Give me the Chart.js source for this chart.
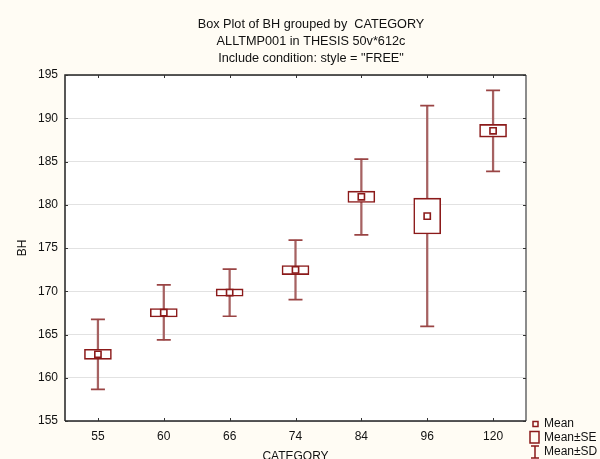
<!DOCTYPE html>
<html>
<head>
<meta charset="utf-8">
<script src="https://cdn.jsdelivr.net/npm/chart.js@4/dist/chart.umd.min.js"></script>
<style>
  html, body { margin: 0; padding: 0; background: #FFFCF4; }
  #wrap { width: 600px; height: 459px; position: relative; }
</style>
</head>
<body>
<div id="wrap"><canvas id="c" width="600" height="459"></canvas></div>
<script>
// ---- data ----
const categories = ["55", "60", "66", "74", "84", "96", "120"];
const meanValues = [162.71, 167.53, 169.85, 172.47, 180.92, 178.68, 188.55];
const seLow      = [162.13, 167.03, 169.42, 171.93, 180.27, 176.63, 187.82];
const seHigh     = [163.29, 168.00, 170.27, 172.97, 181.57, 180.76, 189.29];
const sdLow      = [158.66, 164.37, 167.11, 169.04, 176.52, 165.95, 183.85];
const sdHigh     = [166.76, 170.73, 172.55, 175.90, 185.28, 191.45, 193.23];
const titleLines = ["Box Plot of BH grouped by  CATEGORY", "ALLTMP001 in THESIS 50v*612c", "Include condition: style = \"FREE\""];
const yTicks = [155, 160, 165, 170, 175, 180, 185, 190, 195];
const legendLabels = ["Mean", "Mean\u00B1SE", "Mean\u00B1SD"];

const FONT = "'Liberation Sans', Arial, sans-serif";
const MAROON = '#8B1A1A';
const WHISK = '#A66262';

const framePlugin = {
  id: 'frame',
  beforeDraw(chart) {
    const { ctx, chartArea: a } = chart;
    ctx.save();
    ctx.fillStyle = '#FFFCF4';
    ctx.fillRect(0, 0, chart.width, chart.height);
    ctx.fillStyle = '#FFFFFF';
    ctx.fillRect(a.left, a.top, a.right - a.left, a.bottom - a.top);
    ctx.restore();
  },
  afterDraw(chart) {
    const { ctx, chartArea: a, scales } = chart;
    ctx.save();
    // title
    ctx.font = '12.7px ' + FONT;
    ctx.fillStyle = '#111';
    ctx.textAlign = 'center';
    ctx.textBaseline = 'middle';
    titleLines.forEach((t, i) => ctx.fillText(t, 311, 24 + i * 17));
    // frame
    ctx.strokeStyle = '#8C8C8C';
    ctx.lineWidth = 2;
    ctx.beginPath(); ctx.moveTo(a.right, a.top); ctx.lineTo(a.right, a.bottom); ctx.stroke();
    ctx.strokeStyle = '#222';
    ctx.lineWidth = 1.5;
    ctx.beginPath();
    ctx.moveTo(a.left, a.bottom); ctx.lineTo(a.left, a.top); ctx.lineTo(a.right, a.top);
    ctx.moveTo(a.left, a.bottom); ctx.lineTo(a.right, a.bottom);
    ctx.stroke();
    // inward ticks
    ctx.strokeStyle = '#333';
    ctx.lineWidth = 1;
    ctx.beginPath();
    scales.y.ticks.forEach((t, i) => {
      const y = Math.round(scales.y.getPixelForTick(i)) + 0.5;
      ctx.moveTo(a.left, y); ctx.lineTo(a.left + 3, y);
      ctx.moveTo(a.right, y); ctx.lineTo(a.right - 3, y);
    });
    scales.x.ticks.forEach((t, i) => {
      const x = Math.round(scales.x.getPixelForTick(i)) + 0.5;
      ctx.moveTo(x, a.bottom); ctx.lineTo(x, a.bottom - 3);
      ctx.moveTo(x, a.top); ctx.lineTo(x, a.top + 3);
    });
    ctx.stroke();
    // legend
    const lx = 530;
    ctx.font = '12px ' + FONT;
    ctx.fillStyle = '#111';
    ctx.textBaseline = 'middle';
    ctx.textAlign = 'left';
    ctx.strokeStyle = MAROON;
    ctx.lineWidth = 1.5;
    ctx.strokeRect(lx + 3, 421.5, 5, 5);
    ctx.fillText(legendLabels[0], 544, 424);
    ctx.strokeRect(lx, 431.5, 9, 11.5);
    ctx.fillText(legendLabels[1], 544, 437.5);
    ctx.beginPath();
    ctx.moveTo(lx + 1, 446); ctx.lineTo(lx + 9, 446);
    ctx.moveTo(lx + 5, 446); ctx.lineTo(lx + 5, 458);
    ctx.moveTo(lx + 1, 458); ctx.lineTo(lx + 9, 458);
    ctx.stroke();
    ctx.fillText(legendLabels[2], 544, 451.5);
    ctx.restore();
  }
};

new Chart(document.getElementById('c'), {
  type: 'bar',
  data: {
    labels: categories,
    datasets: [
      {
        type: 'line', label: 'Mean', data: meanValues, showLine: false, order: 0,
        pointStyle: 'rect', pointRadius: 4.4, pointBorderWidth: 1.6,
        pointBackgroundColor: '#FFFFFF', pointBorderColor: MAROON
      },
      {
        type: 'line', label: 'SD high', data: sdHigh, showLine: false, order: 1,
        pointStyle: 'line', pointRadius: 7, pointBorderWidth: 1.7, pointBorderColor: '#9A4444'
      },
      {
        type: 'line', label: 'SD low', data: sdLow, showLine: false, order: 1,
        pointStyle: 'line', pointRadius: 7, pointBorderWidth: 1.7, pointBorderColor: '#9A4444'
      },
      {
        label: 'Mean\u00B1SE', data: categories.map((c, i) => [seLow[i], seHigh[i]]), order: 2,
        backgroundColor: '#FFFFFF', borderColor: MAROON, borderWidth: 1.6, borderSkipped: false,
        barThickness: 27, grouped: false
      },
      {
        label: 'Mean\u00B1SD', data: categories.map((c, i) => [sdLow[i], sdHigh[i]]), order: 3,
        backgroundColor: WHISK, borderWidth: 0, barThickness: 1.6, grouped: false
      }
    ]
  },
  options: {
    responsive: false,
    animation: false,
    layout: { padding: { left: 15, right: 74, top: 75, bottom: 0 } },
    plugins: {
      legend: { display: false },
      tooltip: { enabled: false },
      title: { display: false }
    },
    scales: {
      x: {
        type: 'category', offset: true,
        grid: { display: false, drawTicks: false },
        border: { display: false },
        ticks: { color: '#111', font: { family: FONT, size: 12 }, padding: 8, maxRotation: 0 },
        title: { display: true, text: 'CATEGORY', color: '#111', font: { family: FONT, size: 12 }, padding: { top: 0, bottom: -5 } },
        afterFit(s) { s.height = 38; }
      },
      y: {
        min: 155, max: 195,
        afterBuildTicks(s) { s.ticks = yTicks.map(v => ({ value: v })); },
        grid: { color: '#E2E2E2', lineWidth: 1, drawTicks: false },
        border: { display: false },
        ticks: { color: '#111', font: { family: FONT, size: 12 }, padding: 7 },
        title: { display: true, text: 'BH', color: '#111', font: { family: FONT, size: 12 }, padding: 0 },
        afterFit(s) { s.width = 50; }
      }
    }
  },
  plugins: [framePlugin]
});
</script>
</body>
</html>
